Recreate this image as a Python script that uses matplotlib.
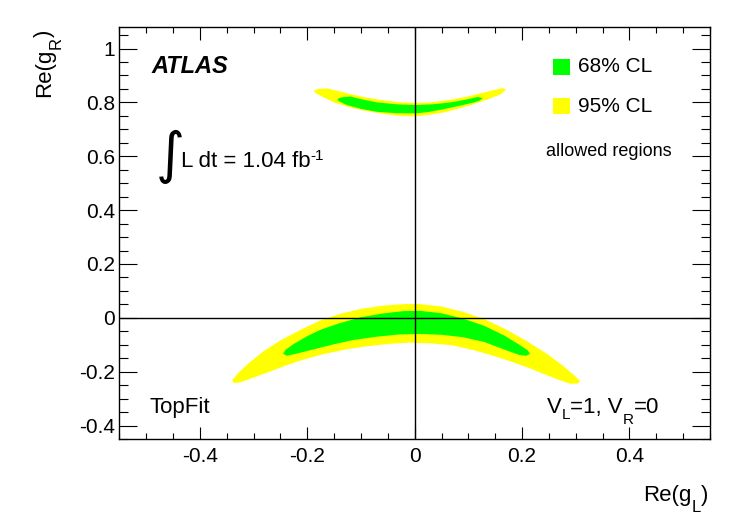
import matplotlib
matplotlib.use("Agg")
import matplotlib.pyplot as plt
from matplotlib.patches import Rectangle
from matplotlib.ticker import MultipleLocator

plt.rcParams["font.family"] = ["Liberation Sans", "DejaVu Sans"]
plt.rcParams["axes.unicode_minus"] = False

# allowed regions, boundaries (Re(gL), Re(gR))
# lower band, 95% CL
low95_x = [-0.340, -0.330, -0.310, -0.282, -0.250, -0.210, -0.176, -0.140, -0.100, -0.060,
           -0.020, 0.010, 0.050, 0.090, 0.130, 0.170, 0.210, 0.245, 0.275, 0.298, 0.308,
           0.304, 0.290, 0.265, 0.240, 0.210, 0.179, 0.145, 0.110, 0.070, 0.030, -0.010,
           -0.050, -0.090, -0.130, -0.170, -0.207, -0.240, -0.270, -0.300, -0.325, -0.337]
low95_y = [-0.232, -0.208, -0.170, -0.125, -0.084, -0.042, -0.010, 0.014, 0.033, 0.045,
           0.051, 0.051, 0.042, 0.022, -0.005, -0.043, -0.088, -0.132, -0.176, -0.215, -0.235,
           -0.244, -0.245, -0.228, -0.208, -0.184, -0.162, -0.140, -0.120, -0.102, -0.095, -0.092,
           -0.097, -0.106, -0.118, -0.135, -0.155, -0.177, -0.200, -0.222, -0.240, -0.242]

# lower band, 68% CL
low68_x = [-0.245, -0.240, -0.225, -0.200, -0.176, -0.140, -0.100, -0.060, -0.020, 0.010,
           0.050, 0.090, 0.130, 0.167, 0.195, 0.210, 0.215,
           0.208, 0.195, 0.167, 0.130, 0.090, 0.050, 0.010, -0.030, -0.070, -0.113,
           -0.150, -0.190, -0.220, -0.238]
low68_y = [-0.133, -0.118, -0.097, -0.068, -0.045, -0.020, 0.002, 0.016, 0.025, 0.026,
           0.017, -0.003, -0.030, -0.066, -0.100, -0.120, -0.133,
           -0.141, -0.138, -0.118, -0.090, -0.072, -0.063, -0.060, -0.062, -0.070, -0.082,
           -0.098, -0.118, -0.133, -0.141]

# upper band, 95% CL
up95_x = [-0.188, -0.180, -0.163, -0.140, -0.120, -0.090, -0.060, -0.030, 0.000, 0.030,
          0.067, 0.095, 0.117, 0.140, 0.164, 0.170,
          0.162, 0.140, 0.105, 0.080, 0.055, 0.025, 0.000, -0.030, -0.057, -0.090,
          -0.120, -0.150, -0.170, -0.184]
up95_y = [0.843, 0.850, 0.852, 0.841, 0.831, 0.818, 0.808, 0.801, 0.798, 0.800,
          0.810, 0.820, 0.831, 0.842, 0.853, 0.848,
          0.832, 0.814, 0.790, 0.776, 0.763, 0.753, 0.748, 0.750, 0.757, 0.768,
          0.781, 0.800, 0.819, 0.834]

# upper band, 68% CL
up68_x = [-0.144, -0.138, -0.120, -0.100, -0.070, -0.035, 0.000, 0.035, 0.067, 0.095,
          0.117, 0.127,
          0.120, 0.111, 0.080, 0.055, 0.025, 0.000, -0.035, -0.070, -0.100, -0.126, -0.141]
up68_y = [0.812, 0.818, 0.822, 0.812, 0.800, 0.793, 0.790, 0.793, 0.800, 0.810,
          0.820, 0.816,
          0.806, 0.800, 0.786, 0.775, 0.764, 0.759, 0.760, 0.765, 0.776, 0.790, 0.804]

green = "#00ff00"
yellow = "#ffff00"

W, H = 747, 523
fig = plt.figure(figsize=(W / 100, H / 100), dpi=100)
ax = fig.add_axes([0.1597, 0.1606, 0.7908, 0.7878])

ax.fill(low95_x, low95_y, color=yellow, lw=0)
ax.fill(up95_x, up95_y, color=yellow, lw=0)
ax.fill(low68_x, low68_y, color=green, lw=0)
ax.fill(up68_x, up68_y, color=green, lw=0)

ax.axhline(0, color="black", lw=1.0)
ax.axvline(0, color="black", lw=1.0)

ax.set_xlim(-0.55, 0.55)
ax.set_ylim(-0.45, 1.08)
ax.xaxis.set_minor_locator(MultipleLocator(0.05))
ax.yaxis.set_minor_locator(MultipleLocator(0.05))
ax.set_xticks([-0.4, -0.2, 0, 0.2, 0.4])
ax.set_xticklabels(["-0.4", "-0.2", "0", "0.2", "0.4"])
ax.set_yticks([-0.4, -0.2, 0, 0.2, 0.4, 0.6, 0.8, 1.0])
ax.set_yticklabels(["-0.4", "-0.2", "0", "0.2", "0.4", "0.6", "0.8", "1"])
ax.tick_params(which="both", direction="in", top=True, right=True, width=0.8,
               labelsize=15)
ax.tick_params(axis="x", which="major", length=9, pad=6)
ax.tick_params(axis="x", which="minor", length=4.5)
ax.tick_params(axis="y", which="major", length=13, pad=3)
ax.tick_params(axis="y", which="minor", length=6.5)
for s in ax.spines.values():
    s.set_linewidth(1.0)


def after(prev, s, base, dy=0.0, size=16, **kw):
    # place text s right after prev, on baseline base (figure fraction), shifted dy points
    return fig.add_artist(plt.Annotation(
        s, xy=(1, base), xycoords=(prev, "figure fraction"),
        xytext=(0, dy), textcoords="offset points", fontsize=size,
        ha="left", va="baseline", **kw))


# x axis title Re(g_L), ROOT style at the right end
xb = 1 - 501 / H
t = fig.text(643 / W, xb, "Re(g", fontsize=16, ha="left", va="baseline")
t = after(t, "L", xb, dy=-8, size=12)
after(t, ")", xb)

# y axis title Re(g_R), rotated, at the top end
yb = 50 / W
t = fig.text(yb, 1 - 97 / H, "Re(g", fontsize=16, rotation=90,
             rotation_mode="anchor", ha="left", va="baseline")
t = fig.add_artist(plt.Annotation(
    "R", xy=(yb, 1), xycoords=("figure fraction", t), xytext=(8, 0),
    textcoords="offset points", fontsize=12, rotation=90, rotation_mode="anchor",
    ha="left", va="baseline"))
fig.add_artist(plt.Annotation(
    ")", xy=(yb, 1), xycoords=("figure fraction", t), fontsize=16, rotation=90,
    rotation_mode="anchor", ha="left", va="baseline"))

# labels inside the frame
ax.text(0.055, 0.905, "ATLAS", transform=ax.transAxes, fontsize=17,
        fontweight="bold", fontstyle="italic", ha="left", va="center")
ax.text(0.062, 0.685, "\u222b", transform=ax.transAxes, fontsize=40,
        family="DejaVu Sans", ha="left", va="center")
lb = 1 - 166.7 / H
t = fig.text(181 / W, lb, "L dt = 1.04 fb", fontsize=16, ha="left", va="baseline")
after(t, "-1", lb, dy=5, size=11)

tb = 1 - 413 / H
fig.text(150 / W, tb, "TopFit", fontsize=16, ha="left", va="baseline")
t = fig.text(547 / W, tb, "V", fontsize=16, ha="left", va="baseline")
t = after(t, "L", tb, dy=-4.5, size=11)
t = after(t, "=1, V", tb)
t = after(t, "R", tb, dy=-8, size=11)
after(t, "=0", tb)

# legend boxes
ax.add_patch(Rectangle((0.735, 0.8835), 0.028, 0.0385, transform=ax.transAxes,
                       color=green, lw=0))
ax.add_patch(Rectangle((0.735, 0.789), 0.028, 0.0385, transform=ax.transAxes,
                       color=yellow, lw=0))
ax.text(0.776, 0.903, "68% CL", transform=ax.transAxes, fontsize=15,
        ha="left", va="center")
ax.text(0.776, 0.806, "95% CL", transform=ax.transAxes, fontsize=15,
        ha="left", va="center")
ax.text(0.722, 0.699, "allowed regions", transform=ax.transAxes, fontsize=13,
        ha="left", va="center")

fig.savefig("out.png", dpi=100)
